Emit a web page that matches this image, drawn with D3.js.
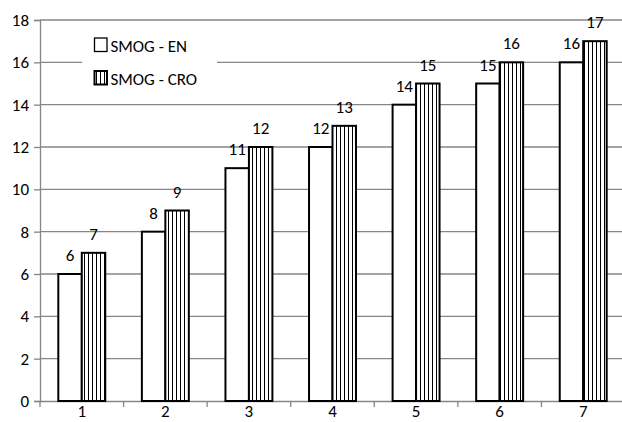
<!DOCTYPE html>
<html><head><meta charset="utf-8">
<script src="https://cdn.jsdelivr.net/npm/d3@7"></script>
<style>body{margin:0;background:#fff}svg{display:block}text{font-family:Carlito,Lato,"Liberation Sans",sans-serif}</style>
</head><body><svg id="c" width="622" height="422"></svg>
<script>
const categories = ["1","2","3","4","5","6","7"];
const seriesNames = ["SMOG - EN","SMOG - CRO"];
const smogEN = [6,8,11,12,14,15,16];
const smogCRO = [7,9,12,13,15,16,17];
const yTicks = [0,2,4,6,8,10,12,14,16,18];

const FS = 17;
const svg = d3.select("#c");
const defs = svg.append("defs");
const pat = defs.append("pattern").attr("id","hatch").attr("patternUnits","userSpaceOnUse")
  .attr("width",4).attr("height",4);
pat.append("rect").attr("width",4).attr("height",4).attr("fill","#fff");
pat.append("line").attr("x1",0.5).attr("x2",0.5).attr("y1",0).attr("y2",4).attr("stroke","#000").attr("stroke-width",1);

const x = d3.scaleBand().domain(categories).range([40,625]).padding(0);
const x1 = d3.scaleBand().domain([0,1]).range([0,x.bandwidth()]).paddingInner(0).paddingOuter(0.78);
const y = d3.scaleLinear().domain([0,18]).range([401,20]);

// gridlines
svg.append("g").selectAll("line").data(yTicks.filter(d=>d>0)).join("line")
  .attr("x1",40).attr("x2",622).attr("y1",d=>y(d)).attr("y2",d=>y(d))
  .attr("stroke","#868686").attr("stroke-width",1.3);

// y axis
const yAxis = d3.axisLeft(y).tickValues(yTicks).tickSize(6).tickPadding(5).tickFormat(d3.format("d"));
const gy = svg.append("g").attr("transform","translate(40,0)").call(yAxis);
gy.select(".domain").attr("stroke","#868686").attr("stroke-width",1.3);
gy.selectAll(".tick line").attr("stroke","#868686").attr("stroke-width",1.3);
gy.selectAll(".tick text").attr("font-size",FS).attr("fill","#000").attr("font-family","Carlito,Lato,sans-serif");

// x axis
const xAxis = d3.axisBottom(x).tickSize(0).tickPadding(4);
const gx = svg.append("g").attr("transform","translate(0,401)").call(xAxis);
gx.select(".domain").attr("stroke","#868686").attr("stroke-width",1.3);
gx.selectAll(".tick text").attr("font-size",FS).attr("fill","#000").attr("font-family","Carlito,Lato,sans-serif");
// category separator ticks
svg.append("g").selectAll("line").data(categories).join("line")
  .attr("x1",d=>x(d)).attr("x2",d=>x(d)).attr("y1",401).attr("y2",407)
  .attr("stroke","#868686").attr("stroke-width",1.3);

// bars
const series = [smogEN, smogCRO];
series.forEach((vals,si)=>{
  const g = svg.append("g");
  g.selectAll("rect").data(vals).join("rect")
    .attr("x",(d,i)=>x(categories[i])+x1(si))
    .attr("y",d=>y(d))
    .attr("width",x1.bandwidth())
    .attr("height",d=>y(0)-y(d))
    .attr("fill",si===0?"#fff":"url(#hatch)")
    .attr("stroke","#000").attr("stroke-width",2);
  g.selectAll("text").data(vals).join("text")
    .attr("x",(d,i)=>x(categories[i])+x1(si)+x1.bandwidth()/2)
    .attr("y",d=>y(d)-13)
    .attr("text-anchor","middle").attr("font-size",FS).attr("fill","#000")
    .text(d=>d);
});

// legend
const lg = svg.append("g");
lg.append("rect").attr("x",82).attr("y",27).attr("width",135).attr("height",68).attr("fill","#fff");
seriesNames.forEach((n,i)=>{
  const yy = 38 + i*33;
  lg.append("rect").attr("x",94.5).attr("y",yy).attr("width",12.5).attr("height",13.5)
    .attr("fill",i===0?"#fff":"url(#hatch)").attr("stroke","#000").attr("stroke-width",i===0?1.3:2);
  lg.append("text").attr("x",110.5).attr("y",yy+14).attr("font-size",FS).attr("fill","#000").text(n);
});
</script></body></html>
